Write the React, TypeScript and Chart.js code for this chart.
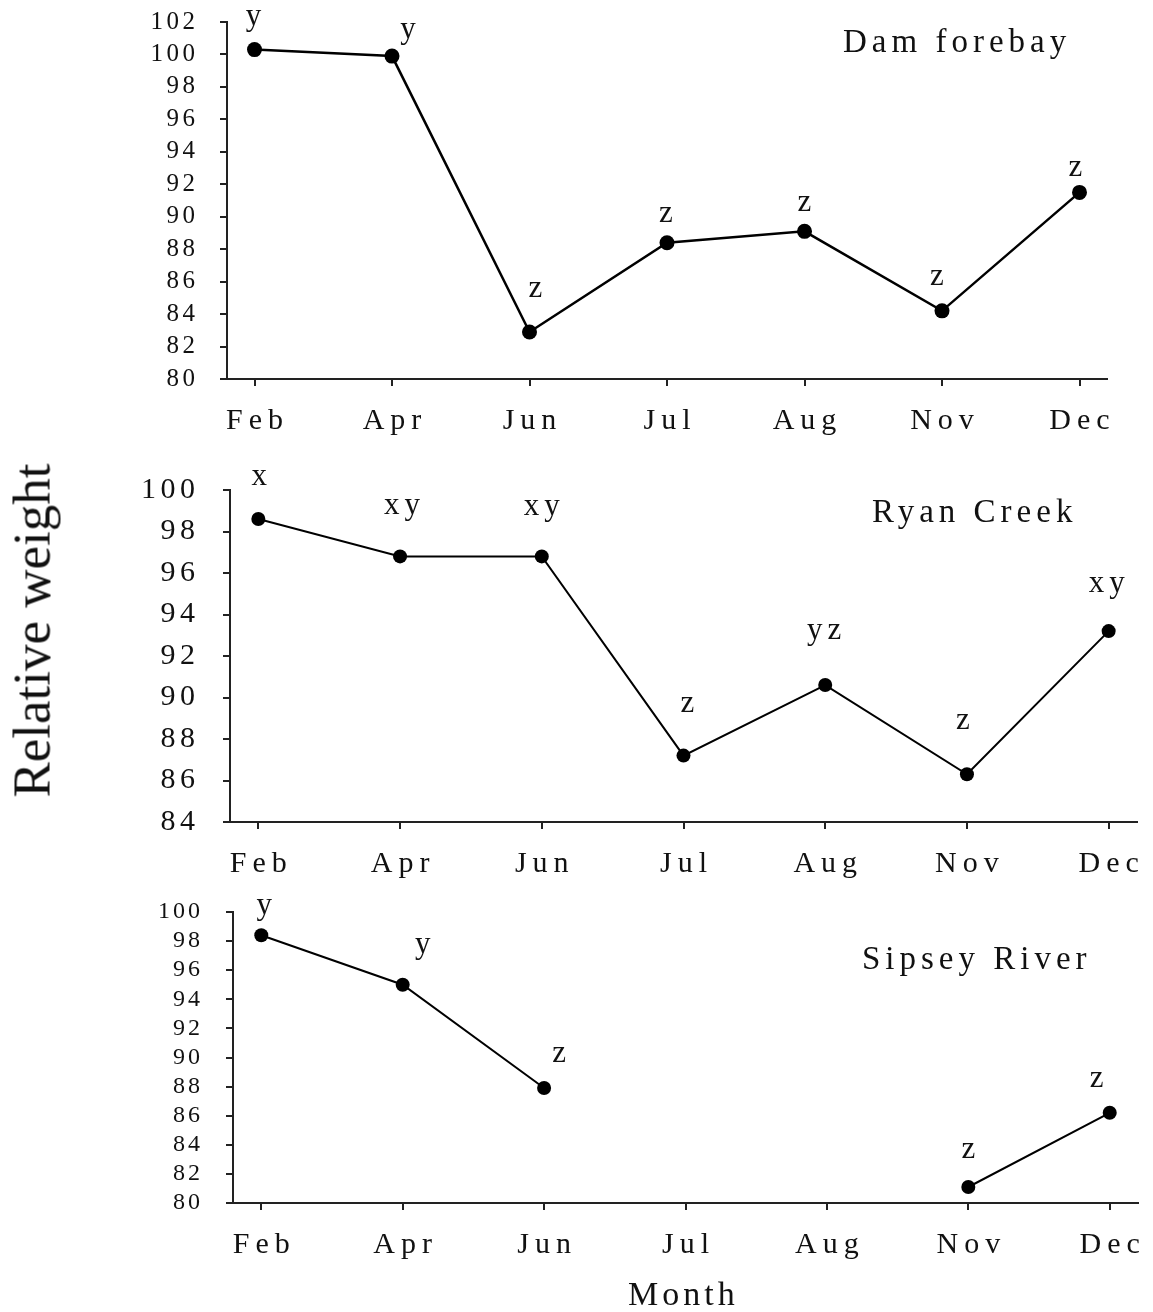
import React, { useEffect, useRef } from "react";
import { Chart, registerables } from "chart.js";
Chart.register(...registerables);

// ---------- data ----------
const months = ["Feb", "Apr", "Jun", "Jul", "Aug", "Nov", "Dec"];

const damForebay = [100.3, 99.9, 82.9, 88.4, 89.1, 84.2, 91.5];
const damLetters = ["y", "y", "z", "z", "z", "z", "z"];
const damYRange = [80, 102];

const ryanCreek = [98.6, 96.8, 96.8, 87.2, 90.6, 86.3, 93.2];
const ryanLetters = ["x", "xy", "xy", "z", "yz", "z", "xy"];
const ryanYRange = [84, 100];

const sipseyRiver = [98.4, 95.0, 87.9, null, null, 81.1, 86.2];
const sipseyLetters = ["y", "y", "z", "", "", "z", "z"];
const sipseyYRange = [80, 100];

const yStep = 2;

const FONT = "'Liberation Serif', 'Times New Roman', serif";

type Panel = {
  values: (number | null)[];
  letters: string[];
  yRange: number[];
  top: number;
  height: number;
  left: number;
  right: number;
  areaTop: number;
  areaBottom: number;
  yFont: number;
  yLs: number;
  yPad: number;
  xFont: number;
  xLs: number;
  xPad: number;
  letterFont: number;
  letterLs: number;
  lineWidth: number;
  pointRadius: number;
  offsets: number[][];
};

const panels: Panel[] = [
  {
    values: damForebay,
    letters: damLetters,
    yRange: damYRange,
    top: 0,
    height: 440,
    left: 227,
    right: 1107,
    areaTop: 22,
    areaBottom: 379,
    yFont: 25,
    yLs: 3.5,
    yPad: 25,
    xFont: 30,
    xLs: 6,
    xPad: 17,
    letterFont: 31,
    letterLs: 4,
    lineWidth: 2.5,
    pointRadius: 7.5,
    offsets: [[-1, -25], [16, -18], [6, -35], [-1, -21], [0, -20], [-5, -26], [-4, -16]],
  },
  {
    values: ryanCreek,
    letters: ryanLetters,
    yRange: ryanYRange,
    top: 440,
    height: 440,
    left: 230,
    right: 1137,
    areaTop: 490,
    areaBottom: 822,
    yFont: 30,
    yLs: 4.5,
    yPad: 28,
    xFont: 30,
    xLs: 6,
    xPad: 17,
    letterFont: 31,
    letterLs: 5,
    lineWidth: 2,
    pointRadius: 7,
    offsets: [[1, -34], [2, -42], [0, -41], [4, -44], [-1, -46], [-4, -45], [-2, -39]],
  },
  {
    values: sipseyRiver,
    letters: sipseyLetters,
    yRange: sipseyYRange,
    top: 880,
    height: 432,
    left: 233,
    right: 1138,
    areaTop: 912,
    areaBottom: 1203,
    yFont: 24,
    yLs: 3,
    yPad: 26,
    xFont: 30,
    xLs: 6,
    xPad: 17,
    letterFont: 31,
    letterLs: 4,
    lineWidth: 2,
    pointRadius: 7,
    offsets: [[3, -21], [20, -32], [15, -26], [0, 0], [0, 0], [0, -29], [-13, -26]],
  },
];

function PanelChart({ p }: { p: Panel }) {
  const ref = useRef<HTMLCanvasElement | null>(null);
  useEffect(() => {
    if (!ref.current) return;
    const areaTopRel = p.areaTop - p.top;
    const areaBottomRel = p.areaBottom - p.top;

    const plugin = {
      id: "panelExtras",
      beforeDraw(chart: any) {
        const patch = (scale: any, ls: number, dx: number) => {
          if (!scale || scale.__patched) return;
          const orig = scale.drawLabels.bind(scale);
          scale.drawLabels = (area: any) => {
            const ctx = chart.ctx;
            ctx.save();
            (ctx as any).letterSpacing = ls + "px";
            ctx.translate(dx, 0);
            orig(area);
            ctx.restore();
          };
          scale.__patched = true;
        };
        patch(chart.scales.x, p.xLs, p.xLs / 2);
        patch(chart.scales.y, p.yLs, p.yLs);
      },
      afterDatasetsDraw(chart: any) {
        const ctx = chart.ctx;
        const xs = chart.scales.x;
        const ys = chart.scales.y;
        ctx.save();
        ctx.font = `${p.letterFont}px ${FONT}`;
        (ctx as any).letterSpacing = p.letterLs + "px";
        ctx.textAlign = "center";
        ctx.textBaseline = "alphabetic";
        ctx.fillStyle = "#111";
        p.letters.forEach((t, i) => {
          const v = p.values[i];
          if (!t || v === null) return;
          const off = p.offsets[i] || [0, -30];
          const px = xs.getPixelForValue(i);
          const py = ys.getPixelForValue(v);
          ctx.fillText(t, px + off[0] + p.letterLs / 2, py + off[1]);
        });
        ctx.restore();
      },
    };

    const chart = new Chart(ref.current, {
      type: "line",
      data: {
        datasets: [
          {
            data: p.values.map((v, i) => ({ x: i, y: v })) as any,
            borderColor: "#000",
            borderWidth: p.lineWidth,
            pointRadius: p.pointRadius,
            pointBackgroundColor: "#000",
            pointBorderColor: "#000",
            pointBorderWidth: 0,
            tension: 0,
            fill: false,
            spanGaps: false,
            clip: false as any,
          },
        ],
      },
      options: {
        animation: false,
        responsive: false,
        maintainAspectRatio: false,
        events: [],
        layout: {
          padding: { left: 0, right: 1153 - p.right, top: areaTopRel, bottom: 0 },
        },
        plugins: {
          legend: { display: false },
          tooltip: { enabled: false },
          title: { display: false },
        },
        scales: {
          x: {
            type: "linear",
            min: -0.2,
            max: 6.2,
            grid: {
              display: true,
              drawOnChartArea: false,
              drawTicks: true,
              tickLength: 7,
              lineWidth: 2,
              color: "#222",
            },
            border: { display: true, color: "#222", width: 2 },
            ticks: {
              stepSize: 1,
              includeBounds: false,
              autoSkip: false,
              maxRotation: 0,
              minRotation: 0,
              padding: p.xPad,
              color: "#111",
              font: { family: FONT, size: p.xFont },
              callback: (v: any) => months[v as number] ?? "",
            },
            afterFit: (s: any) => {
              s.height = p.height - areaBottomRel;
              s.paddingLeft = 0;
              s.paddingRight = 0;
            },
          },
          y: {
            type: "linear",
            min: p.yRange[0],
            max: p.yRange[1],
            grid: {
              display: true,
              drawOnChartArea: false,
              drawTicks: true,
              tickLength: 7,
              lineWidth: 2,
              color: "#222",
            },
            border: { display: true, color: "#222", width: 2 },
            ticks: {
              stepSize: yStep,
              autoSkip: false,
              padding: p.yPad,
              color: "#111",
              font: { family: FONT, size: p.yFont },
            },
            afterFit: (s: any) => {
              s.width = p.left;
              s.paddingTop = 0;
              s.paddingBottom = 0;
            },
          },
        },
      } as any,
      plugins: [plugin as any],
    });
    return () => chart.destroy();
  }, [p]);

  return (
    <canvas
      ref={ref}
      width={1153}
      height={p.height}
      style={{ position: "absolute", left: 0, top: p.top, width: 1153, height: p.height }}
    />
  );
}

const titleStyle = (left: number, top: number): React.CSSProperties => ({
  position: "absolute",
  left,
  top,
  fontFamily: FONT,
  fontSize: 33,
  lineHeight: "33px",
  letterSpacing: "5px",
  color: "#111",
  whiteSpace: "nowrap",
});

export default function App() {
  return (
    <div
      style={{
        position: "absolute",
        left: 0,
        top: 0,
        width: 1153,
        height: 1312,
        background: "#fff",
        overflow: "hidden",
      }}
    >
      {panels.map((p, i) => (
        <PanelChart key={i} p={p} />
      ))}
      <div style={titleStyle(843, 25)}>Dam forebay</div>
      <div style={titleStyle(872, 495)}>Ryan Creek</div>
      <div style={titleStyle(862, 942)}>Sipsey River</div>
      <div
        style={{
          position: "absolute",
          left: 32 - 170,
          top: 630 - 26.5,
          width: 340,
          height: 53,
          lineHeight: "53px",
          fontSize: 53,
          fontFamily: FONT,
          textAlign: "center",
          color: "#111",
          transform: "rotate(-90deg)",
          transformOrigin: "50% 50%",
          whiteSpace: "nowrap",
        }}
      >
        Relative weight
      </div>
      <div
        style={{
          position: "absolute",
          left: 628,
          top: 1277,
          fontFamily: FONT,
          fontSize: 34,
          lineHeight: "34px",
          letterSpacing: "4px",
          color: "#111",
          whiteSpace: "nowrap",
        }}
      >
        Month
      </div>
    </div>
  );
}
